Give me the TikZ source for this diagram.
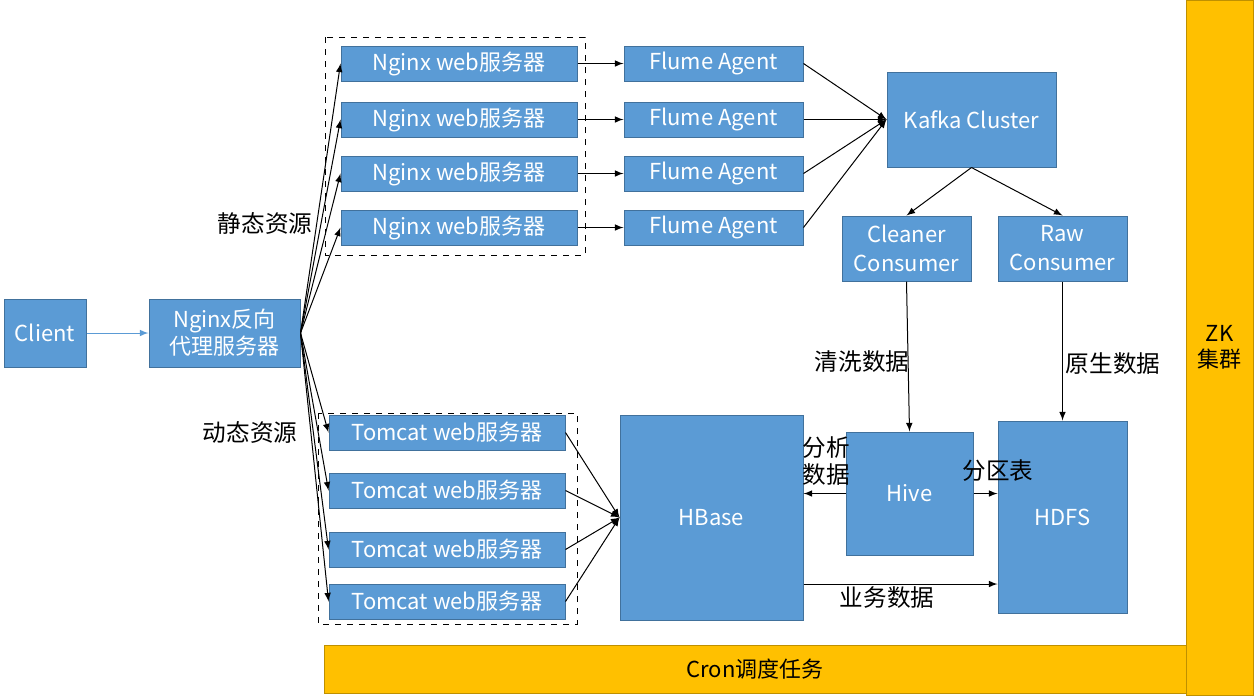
\documentclass[tikz,border=0pt]{standalone}
\usepackage{fontspec}
\setmainfont{Noto Sans CJK SC}
\definecolor{boxblue}{HTML}{5B9BD5}
\definecolor{boxline}{HTML}{41719C}
\definecolor{zkyellow}{HTML}{FFC000}
\definecolor{zkline}{HTML}{BF9000}
\tikzset{
	box/.style={draw=boxline,fill=boxblue,text=white,inner sep=0pt,align=center,
		font=\fontsize{11}{14.5}\selectfont},
	band/.style={draw=zkline,fill=zkyellow,text=black,inner sep=0pt,align=center,
		font=\fontsize{11}{13}\selectfont},
	tag/.style={inner sep=0pt,align=left,font=\fontsize{11.8}{13.5}\selectfont},
}
\begin{document}
\begin{tikzpicture}[x=0.5pt,y=-0.5pt,line width=0.5pt]
		\useasboundingbox (0,0) rectangle (1258,698);
		\path
			  (  45,   333) node[box,minimum width=41pt,minimum height=34pt]     (client)  {Client}
			  ( 224.5, 333) node[box,minimum width=75.5pt,minimum height=34pt,
			                     font=\fontsize{11}{13.5}\selectfont]               (proxy)   {Nginx反向\\代理服务器}
			  ( 971.5, 119.5) node[box,minimum width=84.5pt,minimum height=47.5pt] (kafka)   {Kafka Cluster}
			  ( 906.5, 248.5) node[box,minimum width=64.5pt,minimum height=32.5pt] (cleaner) {Cleaner\\Consumer}
			  (1062.5, 248.5) node[box,minimum width=64.5pt,minimum height=32.5pt] (raw)     {Raw\\Consumer}
			  ( 711.5, 517.5) node[box,minimum width=91.5pt,minimum height=102.5pt] (hbase)  {HBase}
			  ( 909.5, 493.5) node[box,minimum width=63.5pt,minimum height=61.5pt] (hive)    {Hive}
			  (1062.5, 517)   node[box,minimum width=64.5pt,minimum height=96pt]   (hdfs)    {HDFS}
			  (1219.5, 347.5) node[band,minimum width=33.5pt,minimum height=347.5pt] (zk)    {ZK\\集群}
			  ( 755,   669)   node[band,minimum width=431pt,minimum height=24pt]   (cron)    {Cron调度任务}
		;
		\foreach \i/\y in {1/63.5,2/119.5,3/173.5,4/227.5} {
			\node[box,minimum width=118pt,minimum height=17.5pt]  (web\i)   at (459,\y)   {Nginx web服务器};
			\node[box,minimum width=89.5pt,minimum height=17.5pt] (flume\i) at (713.5,\y) {Flume Agent};
		}
		\foreach \i/\y in {1/432.5,2/490.5,3/549.5,4/601.5}
			\node[box,minimum width=118pt,minimum height=17.5pt] (tomcat\i) at (447,\y) {Tomcat web服务器};
		\draw[dashed] (325,37) rectangle (585,255);
		\draw[dashed] (318,413) rectangle (577,624);
		\path
			  ( 265, 223) node[tag] (static)  {静态资源}
			  ( 250, 432) node[tag] (dynamic) {动态资源}
			  ( 862, 362) node[tag] (clean)   {清洗数据}
			  (1113, 364) node[tag] (rawdata) {原生数据}
			  ( 826, 461) node[tag] (analyse) {分析\\数据}
			  ( 998, 471) node[tag] (part)    {分区表}
			  ( 887, 598) node[tag] (biz)     {业务数据}
		;
		\draw[-latex,draw=boxblue,fill=boxblue] (client) -- (proxy);
		\foreach \i in {1,...,4} {
			\draw[-latex] (proxy.east)  -- (web\i.west);
			\draw[-latex] (proxy.east)  -- (tomcat\i.west);
			\draw[-latex] (web\i)       -- (flume\i);
			\draw[-latex] (flume\i.east) -- (kafka.west);
			\draw[-latex] (tomcat\i.east) -- (hbase.west);
		}
		\draw[-latex] (kafka.south)   -- (cleaner.north);
		\draw[-latex] (kafka.south)   -- (raw.north);
		\draw[-latex] (cleaner.south) -- (hive.north);
		\draw[-latex] (raw.south)     -- (hdfs.north);
		\draw[-latex] (hive.west)     -- (hive.west -| hbase.east);
		\draw[-latex] (hive.east)     -- (hive.east -| hdfs.west);
		\draw[-latex] (hbase.east |- 0,584) -- (hdfs.west |- 0,584);
	\end{tikzpicture}
\end{document}
